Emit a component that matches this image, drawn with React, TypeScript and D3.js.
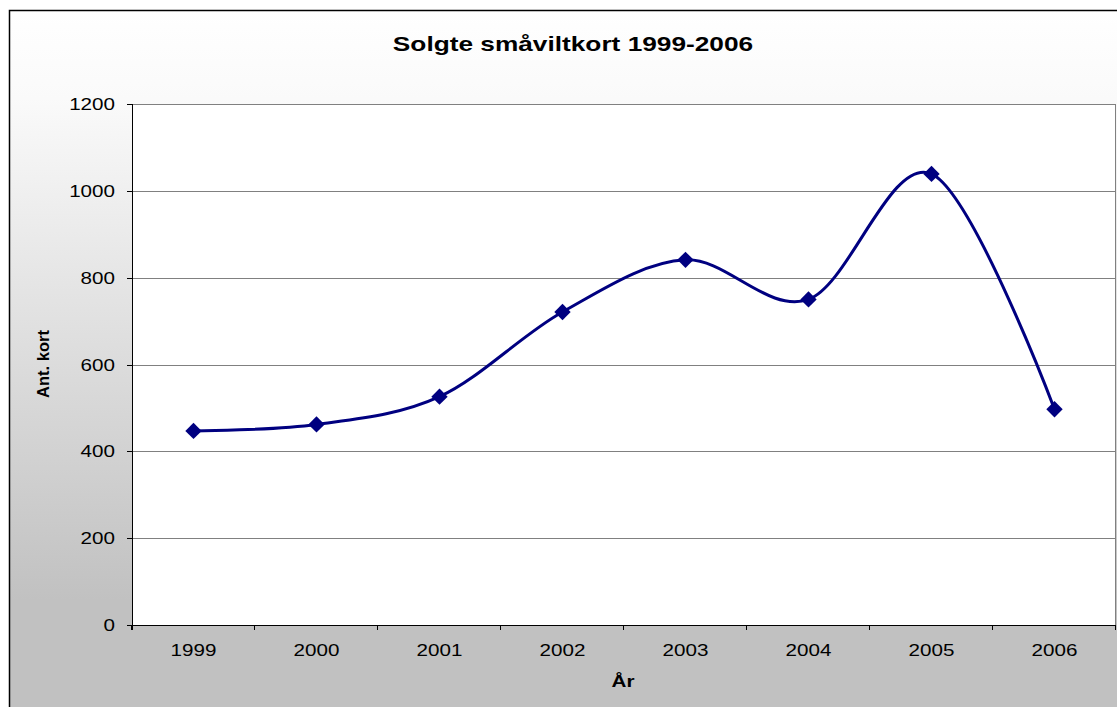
import { useEffect, useRef } from "react";
import * as d3 from "d3";

const years = ["1999", "2000", "2001", "2002", "2003", "2004", "2005", "2006"];
const soldCards = [447, 462, 526, 721, 841, 750, 1039, 497];
const yTicks = [0, 200, 400, 600, 800, 1000, 1200];

const title = "Solgte småviltkort 1999-2006";
const yLabel = "Ant. kort";
const xLabel = "År";

function App() {
  const svgRef = useRef<SVGSVGElement | null>(null);

  useEffect(() => {
    const svg = d3.select(svgRef.current);
    svg.selectAll("*").remove();

    const width = 1117;
    const height = 707;
    // plot area box
    const plot = { left: 132, top: 104, right: 1116, bottom: 625 };
    const font = "'Liberation Sans', Arial, sans-serif";
    const stretch = 1.25; // the source image is widened horizontally

    // background gradient
    const defs = svg.append("defs");
    const grad = defs
      .append("linearGradient")
      .attr("id", "bg")
      .attr("gradientUnits", "userSpaceOnUse")
      .attr("x1", 0)
      .attr("y1", 10)
      .attr("x2", 0)
      .attr("y2", 600);
    grad.append("stop").attr("offset", 0).attr("stop-color", "#ffffff");
    grad.append("stop").attr("offset", 0.15).attr("stop-color", "#fafafa");
    grad.append("stop").attr("offset", 1).attr("stop-color", "#c1c1c1");

    svg
      .append("rect")
      .attr("x", 9.5)
      .attr("y", 10.5)
      .attr("width", width + 40)
      .attr("height", height + 40)
      .attr("fill", "url(#bg)")
      .attr("stroke", "#000")
      .attr("stroke-width", 1.5);

    // plot background
    svg
      .append("rect")
      .attr("x", plot.left)
      .attr("y", plot.top)
      .attr("width", plot.right - plot.left)
      .attr("height", plot.bottom - plot.top)
      .attr("fill", "#fff");

    const x = d3
      .scaleBand()
      .domain(years)
      .range([plot.left, plot.right])
      .padding(0);

    const y = d3.scaleLinear().domain([0, 1200]).range([plot.bottom, plot.top]);

    // gridlines
    svg
      .append("g")
      .selectAll("line")
      .data(yTicks.filter((t) => t > 0))
      .join("line")
      .attr("x1", plot.left)
      .attr("x2", plot.right)
      .attr("y1", (d) => Math.round(y(d)) + 0.5)
      .attr("y2", (d) => Math.round(y(d)) + 0.5)
      .attr("stroke", "#808080")
      .attr("stroke-width", 1);

    // right border of the plot area
    svg
      .append("line")
      .attr("x1", plot.right - 0.5)
      .attr("x2", plot.right - 0.5)
      .attr("y1", plot.top)
      .attr("y2", plot.bottom)
      .attr("stroke", "#808080");

    // y axis
    const yAxis = svg.append("g");
    yAxis
      .append("line")
      .attr("x1", plot.left + 0.5)
      .attr("x2", plot.left + 0.5)
      .attr("y1", plot.top)
      .attr("y2", plot.bottom + 5)
      .attr("stroke", "#000");
    yAxis
      .selectAll("line.tick")
      .data(yTicks)
      .join("line")
      .attr("class", "tick")
      .attr("x1", plot.left - 5)
      .attr("x2", plot.left)
      .attr("y1", (d) => Math.round(y(d)) + 0.5)
      .attr("y2", (d) => Math.round(y(d)) + 0.5)
      .attr("stroke", "#000");
    yAxis
      .selectAll("text")
      .data(yTicks)
      .join("text")
      .attr("transform", (d) => `translate(115,${y(d) + 6}) scale(${stretch},1)`)
      .attr("text-anchor", "end")
      .attr("font-family", font)
      .attr("font-size", 16.5)
      .attr("fill", "#000")
      .text((d) => d);

    // x axis
    const xAxis = svg.append("g");
    xAxis
      .append("line")
      .attr("x1", plot.left)
      .attr("x2", plot.right)
      .attr("y1", plot.bottom + 0.5)
      .attr("y2", plot.bottom + 0.5)
      .attr("stroke", "#000");
    const bounds = years.map((yr) => x(yr) as number).concat([plot.right]);
    xAxis
      .selectAll("line.tick")
      .data(bounds)
      .join("line")
      .attr("class", "tick")
      .attr("x1", (d) => Math.round(d) - 0.5)
      .attr("x2", (d) => Math.round(d) - 0.5)
      .attr("y1", plot.bottom)
      .attr("y2", plot.bottom + 5)
      .attr("stroke", "#000");
    xAxis
      .selectAll("text")
      .data(years)
      .join("text")
      .attr(
        "transform",
        (d) => `translate(${(x(d) as number) + x.bandwidth() / 2},656) scale(${stretch},1)`
      )
      .attr("text-anchor", "middle")
      .attr("font-family", font)
      .attr("font-size", 16.5)
      .attr("fill", "#000")
      .text((d) => d);

    // smoothed line
    const pts: [number, number][] = years.map((yr, i) => [
      (x(yr) as number) + x.bandwidth() / 2,
      y(soldCards[i]),
    ]);
    const line = d3.line().curve(d3.curveCardinal.tension(0));
    svg
      .append("path")
      .attr("d", line(pts))
      .attr("fill", "none")
      .attr("stroke", "#000080")
      .attr("stroke-width", 3);

    // diamond markers
    const diamond = d3.symbol().type(d3.symbolDiamond2).size(170);
    svg
      .append("g")
      .selectAll("path")
      .data(pts)
      .join("path")
      .attr("transform", (d) => `translate(${d[0]},${d[1]})`)
      .attr("d", diamond())
      .attr("fill", "#000080");

    // titles
    svg
      .append("text")
      .attr("transform", `translate(573,51) scale(${stretch},1)`)
      .attr("text-anchor", "middle")
      .attr("font-family", font)
      .attr("font-weight", "bold")
      .attr("font-size", 21)
      .attr("fill", "#000")
      .text(title);

    svg
      .append("text")
      .attr("transform", `translate(49,364) rotate(-90)`)
      .attr("text-anchor", "middle")
      .attr("font-family", font)
      .attr("font-weight", "bold")
      .attr("font-size", 16.5)
      .attr("fill", "#000")
      .text(yLabel);

    svg
      .append("text")
      .attr("transform", `translate(623,687) scale(${stretch},1)`)
      .attr("text-anchor", "middle")
      .attr("font-family", font)
      .attr("font-weight", "bold")
      .attr("font-size", 16.5)
      .attr("fill", "#000")
      .text(xLabel);
  }, []);

  return (
    <svg
      ref={svgRef}
      width={1117}
      height={707}
      style={{ position: "absolute", left: 0, top: 0, display: "block" }}
    />
  );
}

export default App;
